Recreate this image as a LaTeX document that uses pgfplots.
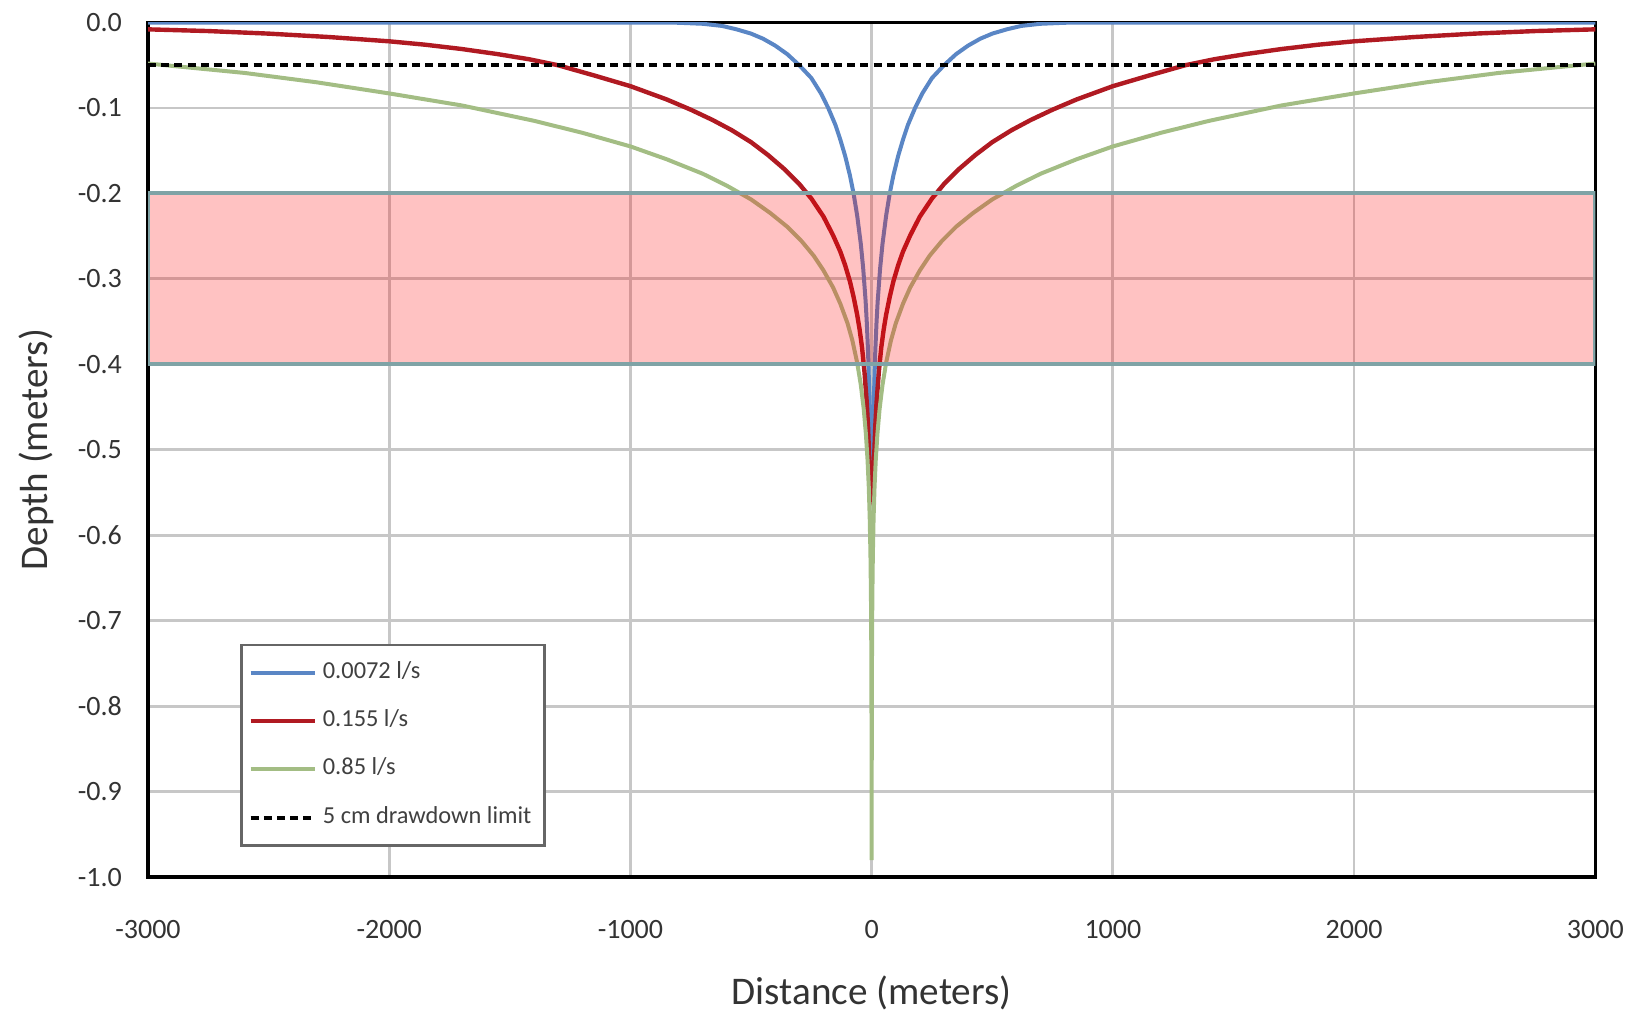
\documentclass[border=0pt]{standalone}
\usepackage{pgfplots}
\pgfplotsset{compat=1.18}
\usepackage{fontspec}
\setmainfont{Carlito}

\definecolor{qblue}{HTML}{5A86C5}
\definecolor{qred}{HTML}{B01A22}
\definecolor{qgreen}{HTML}{A3BD84}
\definecolor{bandedge}{HTML}{7FA3A6}

\begin{document}
\begin{tikzpicture}
\begin{axis}[
    scale only axis,
    width=362pt, height=213.75pt,
    xmin=-3000, xmax=3000,
    ymin=-1, ymax=0,
    xtick={-3000,-2000,...,3000},
    ytick={-1,-0.9,...,0},
    /pgf/number format/assume math mode=true,
    xticklabel style={/pgf/number format/1000 sep={}, yshift=-7.3pt},
    yticklabel style={/pgf/number format/fixed, /pgf/number format/fixed zerofill,
        /pgf/number format/precision=1, xshift=-3pt},
    ticklabel style={font=\fontsize{7}{8}\selectfont, text=black!80},
    major tick length=0pt,
    grid=major,
    grid style={color=black!22, line width=0.7pt},
    axis line style={black, line width=0.9pt},
    xlabel={Distance (meters)},
    ylabel={Depth (meters)},
    label style={font=\fontsize{9.8}{11}\selectfont, text=black!80},
    xlabel style={inner ysep=0.5pt, yshift=-5.3pt},
    ylabel style={inner ysep=4.6pt, yshift=-2pt},
    legend style={at={(0.0635,0.035)}, anchor=south west,
        draw=black!60, line width=0.7pt, fill=white,
        font=\fontsize{6.1}{7}\selectfont, text=black!75,
        row sep=2.3pt, inner xsep=1.8pt, inner ysep=2.2pt, nodes={inner xsep=1.5pt}},
    legend cell align=left,
    legend image code/.code={\draw[#1] (0pt,0pt) -- (16pt,0pt);},
]

\addplot[qblue, line width=1pt] coordinates {
(-3000,0) (-900,0) (-800,-0.0003) (-700,-0.0015) (-620,-0.004) (-560,-0.008)
(-500,-0.013) (-450,-0.019) (-400,-0.027) (-350,-0.037) (-300,-0.050)
(-250,-0.065) (-210,-0.083) (-180,-0.100) (-150,-0.120) (-130,-0.137)
(-110,-0.156) (-90,-0.179) (-75,-0.200) (-60,-0.226) (-45,-0.259)
(-35,-0.288) (-25,-0.326) (-20,-0.352) (-15,-0.385) (-10,-0.432)
(-6,-0.490) (0,-0.500)
(6,-0.490) (10,-0.432) (15,-0.385) (20,-0.352) (25,-0.326) (35,-0.288)
(45,-0.259) (60,-0.226) (75,-0.200) (90,-0.179) (110,-0.156) (130,-0.137)
(150,-0.120) (180,-0.100) (210,-0.083) (250,-0.065) (300,-0.050)
(350,-0.037) (400,-0.027) (450,-0.019) (500,-0.013) (560,-0.008)
(620,-0.004) (700,-0.0015) (800,-0.0003) (900,0) (3000,0)
};
\addlegendentry{0.0072 l/s}

\addplot[qred, line width=1.1pt] coordinates {
(-3000,-0.008) (-2750,-0.010) (-2500,-0.013) (-2250,-0.017) (-2000,-0.022)
(-1850,-0.026) (-1700,-0.031) (-1550,-0.037) (-1420,-0.043) (-1300,-0.050)
(-1150,-0.062) (-1000,-0.0745) (-850,-0.090) (-750,-0.102) (-660,-0.114)
(-580,-0.126) (-500,-0.140) (-430,-0.155) (-360,-0.172) (-300,-0.189)
(-250,-0.206) (-200,-0.227) (-160,-0.249) (-130,-0.268) (-110,-0.284)
(-90,-0.303) (-75,-0.321) (-60,-0.342) (-50,-0.359) (-40,-0.380)
(-30,-0.408) (-20,-0.446) (-15,-0.473) (-10,-0.512) (0,-0.540)
(10,-0.512) (15,-0.473) (20,-0.446) (30,-0.408) (40,-0.380) (50,-0.359)
(60,-0.342) (75,-0.321) (90,-0.303) (110,-0.284) (130,-0.268)
(160,-0.249) (200,-0.227) (250,-0.206) (300,-0.189) (360,-0.172)
(430,-0.155) (500,-0.140) (580,-0.126) (660,-0.114) (750,-0.102)
(850,-0.090) (1000,-0.0745) (1150,-0.062) (1300,-0.050) (1420,-0.043)
(1550,-0.037) (1700,-0.031) (1850,-0.026) (2000,-0.022) (2250,-0.017)
(2500,-0.013) (2750,-0.010) (3000,-0.008)
};
\addlegendentry{0.155 l/s}

\addplot[qgreen, line width=1pt] coordinates {
(-3000,-0.048) (-2600,-0.059) (-2300,-0.070) (-2000,-0.083) (-1700,-0.097)
(-1400,-0.115) (-1200,-0.129) (-1000,-0.145) (-850,-0.160) (-700,-0.177)
(-600,-0.191) (-500,-0.207) (-420,-0.223) (-350,-0.239) (-290,-0.256)
(-240,-0.273) (-200,-0.290) (-160,-0.310) (-130,-0.329) (-100,-0.352)
(-80,-0.372) (-60,-0.398) (-45,-0.424) (-33,-0.452) (-24,-0.481)
(-17,-0.512) (-12,-0.543) (-8,-0.580) (-5,-0.622) (-3,-0.668)
(-2,-0.704) (-1,-0.767) (-0.5,-0.829) (-0.2,-0.912) (0,-0.980)
(0.2,-0.912) (0.5,-0.829) (1,-0.767) (2,-0.704) (3,-0.668) (5,-0.622)
(8,-0.580) (12,-0.543) (17,-0.512) (24,-0.481) (33,-0.452) (45,-0.424)
(60,-0.398) (80,-0.372) (100,-0.352) (130,-0.329) (160,-0.310)
(200,-0.290) (240,-0.273) (290,-0.256) (350,-0.239) (420,-0.223)
(500,-0.207) (600,-0.191) (700,-0.177) (850,-0.160) (1000,-0.145)
(1200,-0.129) (1400,-0.115) (1700,-0.097) (2000,-0.083) (2300,-0.070)
(2600,-0.059) (3000,-0.048)
};
\addlegendentry{0.85 l/s}

\addplot[black, line width=1pt, dash pattern=on 2pt off 1.3pt] coordinates {
(-3000,-0.05) (3000,-0.05)
};
\addlegendentry{5 cm drawdown limit}

\addplot[forget plot, draw=bandedge, line width=1pt, fill=red, fill opacity=0.24, draw opacity=1]
coordinates {(-3000,-0.2) (3000,-0.2) (3000,-0.4) (-3000,-0.4)} -- cycle;

\end{axis}
\end{tikzpicture}
\end{document}
